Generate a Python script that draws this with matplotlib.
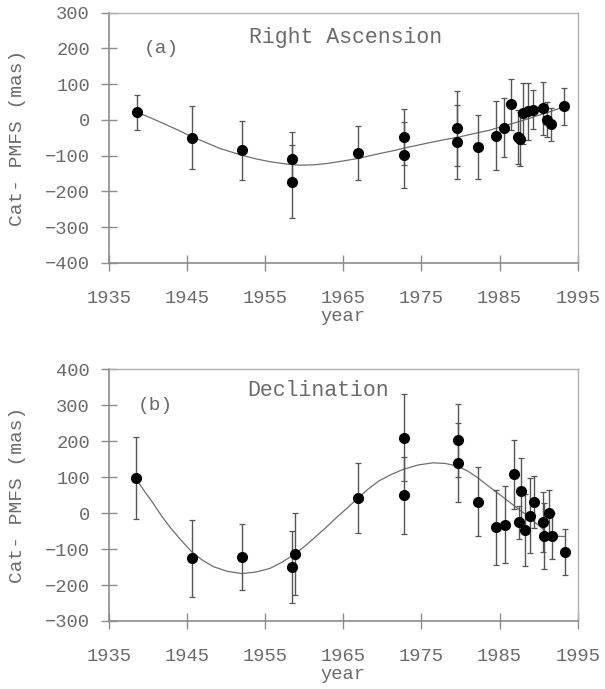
import matplotlib.pyplot as plt

# ---------------- data ----------------
# (a) Right Ascension
ra_year = [1938.6, 1945.6, 1952.1, 1958.4, 1958.4, 1966.9, 1972.8, 1972.8,
           1979.6, 1979.6, 1982.3, 1984.6, 1985.6, 1986.5, 1987.3, 1987.6,
           1988.0, 1988.7, 1989.3, 1990.6, 1991.1, 1991.6, 1993.2]
ra_val = [22, -50, -85, -110, -173, -93, -48, -99,
          -23, -62, -76, -44, -22, 44, -47, -53,
          18, 24, 29, 32, 1, -12, 38]
ra_err = [49, 88, 83, 75, 103, 75, 78, 92,
          105, 104, 90, 97, 83, 71, 76, 76,
          86, 80, 55, 75, 50, 46, 52]

ra_fit_year = [1938.6, 1940.0, 1942.0, 1944.0, 1945.6, 1947.5, 1949.2, 1950.7,
               1952.0, 1953.8, 1955.6, 1957.5, 1959.4, 1961.2, 1963.0, 1965.0,
               1966.9, 1968.3, 1969.7, 1971.5, 1973.0, 1974.5, 1976.0, 1977.8,
               1979.6, 1981.6, 1983.7, 1985.4, 1987.0, 1988.5, 1990.0, 1991.6,
               1993.2]
ra_fit_val = [22, 9, -10, -30, -47, -64, -80, -90,
              -99, -109, -117, -123, -127, -126, -122, -115,
              -108, -101, -94, -86, -78, -71, -64, -56,
              -49, -39, -29, -18, -8, 2, 13, 24,
              36]

# (b) Declination
dec_year = [1938.5, 1945.6, 1952.1, 1958.4, 1958.8, 1966.9, 1972.8, 1972.8,
            1979.7, 1979.7, 1982.3, 1984.6, 1985.7, 1986.8, 1987.5, 1987.7,
            1988.3, 1988.9, 1989.4, 1990.5, 1990.7, 1991.3, 1991.7, 1993.4]
dec_val = [98, -125, -121, -151, -114, 42, 209, 50,
           202, 140, 32, -39, -32, 108, -26, 62,
           -47, -7, 31, -24, -64, 1, -64, -107]
dec_err = [115, 107, 92, 100, 114, 97, 121, 107,
           101, 110, 96, 104, 108, 96, 47, 92,
           101, 104, 73, 84, 92, 62, 64, 64]

dec_fit_year = [1938.6, 1939.6, 1940.7, 1941.7, 1942.8, 1944.2, 1945.6, 1947.0,
                1948.4, 1950.2, 1952.0, 1953.8, 1955.6, 1957.2, 1958.8, 1960.2,
                1961.5, 1962.8, 1964.0, 1965.5, 1966.9, 1968.2, 1969.6, 1971.2,
                1972.7, 1974.6, 1976.5, 1978.1, 1979.6, 1981.0, 1982.3, 1983.7,
                1985.0, 1986.6, 1988.3, 1989.5, 1990.7, 1991.4, 1993.3]
dec_fit_val = [92, 60, 27, -6, -38, -74, -107, -131,
               -149, -162, -168, -164, -154, -136, -114, -90,
               -65, -40, -15, 14, 42, 67, 90, 108,
               122, 134, 140, 138, 131, 116, 97, 73,
               52, 25, -3, -25, -47, -64, -65]

year_ticks = [1935, 1945, 1955, 1965, 1975, 1985, 1995]

FONT = "Liberation Mono"
TXT = "#6a6a6a"
AXC = "#8c8c8c"

plt.rcParams["font.family"] = FONT

fig = plt.figure(figsize=(6.05, 6.89), dpi=100)
ax_a = fig.add_axes([0.1797, 0.6187, 0.7752, 0.3628])
ax_b = fig.add_axes([0.1797, 0.0987, 0.7752, 0.3653])


def style_axes(ax, ylim, yticks):
    ax.set_xlim(1935, 1995)
    ax.set_ylim(*ylim)
    ax.set_xticks(year_ticks)
    ax.set_yticks(yticks)
    for side in ["top", "right"]:
        ax.spines[side].set_color("#b0b0b0")
        ax.spines[side].set_linewidth(1.0)
    for side in ["left", "bottom"]:
        ax.spines[side].set_color(AXC)
        ax.spines[side].set_linewidth(1.2)
    ax.tick_params(axis="both", direction="inout", length=11, width=1.0,
                   color=AXC, labelcolor=TXT, labelsize=13.5)
    ax.tick_params(axis="x", pad=14)
    ax.tick_params(axis="y", pad=8)
    ax.set_xlabel("year", color=TXT, fontsize=13.5, labelpad=1)
    ax.set_ylabel("Cat- PMFS (mas)", color=TXT, fontsize=14, labelpad=14)


def draw_panel(ax, yr, val, err, fyr, fval):
    ax.plot(fyr, fval, color="#6e6e6e", lw=0.9, zorder=2)
    ax.errorbar(yr, val, yerr=err, fmt="o", color="black", ms=7,
                ecolor="#555555", elinewidth=1.0, capsize=2.2, capthick=0.9,
                zorder=3)


draw_panel(ax_a, ra_year, ra_val, ra_err, ra_fit_year, ra_fit_val)
style_axes(ax_a, (-400, 300), range(-400, 301, 100))
ax_a.text(1941.8, 200, "(a)", color=TXT, fontsize=14, ha="center", va="center")
ax_a.text(1952.9, 231, "Right Ascension", color=TXT, fontsize=15.5,
          ha="left", va="center")

draw_panel(ax_b, dec_year, dec_val, dec_err, dec_fit_year, dec_fit_val)
style_axes(ax_b, (-300, 400), range(-300, 401, 100))
ax_b.text(1941.0, 300, "(b)", color=TXT, fontsize=14, ha="center", va="center")
ax_b.text(1952.7, 342, "Declination", color=TXT, fontsize=15.5,
          ha="left", va="center")

fig.savefig("out.png", dpi=100)
